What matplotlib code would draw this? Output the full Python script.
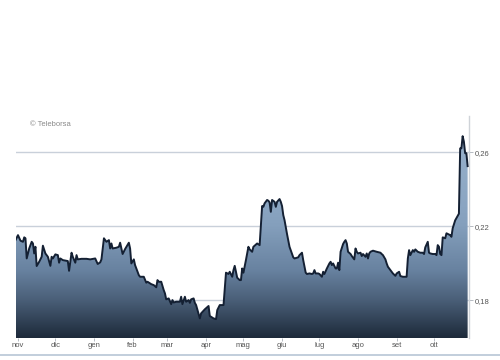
import pandas as pd
import matplotlib.pyplot as plt
import numpy as np
from matplotlib.colors import LinearSegmentedColormap
from matplotlib.lines import Line2D

# days counted from 1 nov
days = [-2, 0, 2, 4, 5, 6, 7, 9, 11, 12, 13, 14, 15, 17, 19, 20, 22, 24, 26, 27,
        28, 30, 32, 33, 34, 36, 40, 41, 43, 44, 46, 47, 48, 51, 55, 58, 62, 64, 66, 67,
        69, 71, 73, 74, 75, 76, 79, 81, 82, 84, 86, 89, 90, 91, 93, 94, 95, 97, 98, 101,
        103, 104, 107, 109, 111, 112, 113, 115, 117, 118, 119, 121, 123, 124, 125, 127, 130, 131, 132, 134,
        135, 137, 138, 139, 141, 142, 143, 146, 147, 150, 153, 154, 157, 159, 160, 162, 165, 167, 169, 170,
        172, 173, 174, 176, 178, 179, 180, 181, 183, 185, 186, 188, 189, 190, 192, 194, 196, 197, 198, 200,
        201, 202, 203, 204, 206, 207, 208, 210, 211, 212, 213, 214, 216, 217, 218, 221, 222, 225, 226, 228,
        229, 231, 232, 234, 236, 237, 238, 239, 241, 242, 244, 245, 246, 248, 250, 251, 252, 253, 255, 256,
        257, 258, 259, 261, 262, 263, 264, 265, 267, 268, 270, 271, 272, 273, 275, 276, 277, 279, 280, 281,
        282, 283, 285, 288, 291, 292, 293, 295, 296, 297, 299, 300, 301, 303, 304, 306, 307, 309, 312, 313,
        314, 315, 317, 318, 319, 321, 323, 325, 326, 327, 329, 330, 331, 333, 335, 336, 337, 338, 339, 340,
        341, 343, 344, 347, 348, 349, 351, 352, 354, 355, 356, 357, 358, 359, 360, 361]
prices = [0.2124, 0.2151, 0.2121, 0.2115, 0.2139, 0.2134, 0.2025, 0.2079, 0.2115, 0.2106,
          0.2052, 0.2088, 0.1984, 0.2007, 0.2034, 0.2094, 0.2052, 0.2034, 0.1985, 0.2034,
          0.2025, 0.2047, 0.2043, 0.2002, 0.2025, 0.2016, 0.2011, 0.1958, 0.2056, 0.2034,
          0.2002, 0.2043, 0.2020, 0.2023, 0.2023, 0.2020, 0.2025, 0.1995, 0.2004, 0.2020,
          0.2134, 0.2115, 0.2124, 0.2079, 0.2106, 0.2079, 0.2083, 0.2088, 0.2110, 0.2049,
          0.2076, 0.2110, 0.2079, 0.1998, 0.2020, 0.1989, 0.1971, 0.1935, 0.1926, 0.1926,
          0.1894, 0.1899, 0.1886, 0.1881, 0.1869, 0.1908, 0.1899, 0.1899, 0.1854, 0.1836,
          0.1804, 0.1809, 0.1778, 0.1800, 0.1787, 0.1791, 0.1791, 0.1818, 0.1778, 0.1818,
          0.1791, 0.1800, 0.1785, 0.1804, 0.1809, 0.1785, 0.1773, 0.1701, 0.1728, 0.1750,
          0.1768, 0.1714, 0.1701, 0.1697, 0.1746, 0.1773, 0.1773, 0.1948, 0.1941, 0.1953,
          0.1926, 0.1962, 0.1985, 0.1921, 0.1908, 0.1908, 0.1971, 0.1948, 0.2016, 0.2088,
          0.2074, 0.2061, 0.2088, 0.2094, 0.2106, 0.2097, 0.2308, 0.2304, 0.2323, 0.2341,
          0.2337, 0.2328, 0.2277, 0.2341, 0.2331, 0.2304, 0.2331, 0.2346, 0.2331, 0.2308,
          0.2259, 0.2232, 0.2157, 0.2124, 0.2088, 0.2031, 0.2025, 0.2031, 0.2043, 0.2056,
          0.2016, 0.1948, 0.1941, 0.1944, 0.1941, 0.1944, 0.1962, 0.1944, 0.1944, 0.1941,
          0.1926, 0.1953, 0.1941, 0.1971, 0.1998, 0.2007, 0.1989, 0.1998, 0.1971, 0.1971,
          0.2002, 0.1962, 0.2061, 0.2103, 0.2115, 0.2124, 0.2106, 0.2061, 0.2049, 0.2038,
          0.2020, 0.2079, 0.2061, 0.2052, 0.2056, 0.2038, 0.2049, 0.2034, 0.2052, 0.2025,
          0.2052, 0.2061, 0.2067, 0.2061, 0.2056, 0.2049, 0.2043, 0.2020, 0.1998, 0.1980,
          0.1962, 0.1953, 0.1944, 0.1931, 0.1944, 0.1953, 0.1930, 0.1926, 0.1926, 0.2025,
          0.2070, 0.2043, 0.2070, 0.2061, 0.2074, 0.2061, 0.2056, 0.2056, 0.2049, 0.2085,
          0.2115, 0.2056, 0.2052, 0.2049, 0.2049, 0.2043, 0.2097, 0.2088, 0.2049, 0.2043,
          0.2139, 0.2134, 0.2161, 0.2151, 0.2142, 0.2188, 0.2231, 0.2243, 0.2267, 0.2620,
          0.2620, 0.2686, 0.2656, 0.2594, 0.2594, 0.2524]

month_labels = ["nov", "dic", "gen", "feb", "mar", "apr", "mag", "giu", "lug", "ago", "set", "ott"]
yticks = [0.18, 0.22, 0.26]

start = pd.Timestamp("2022-11-01")
dates = start + pd.to_timedelta(days, unit="D")
x = pd.to_numeric(pd.Series(dates)).values / 8.64e13  # days since epoch
x0 = start.value / 8.64e13
month_starts = pd.date_range("2022-11-01", periods=12, freq="MS")
mx = month_starts.values.astype("datetime64[D]").astype(float)

plt.rcParams['font.family'] = ['Liberation Sans', 'DejaVu Sans']

fig = plt.figure(figsize=(5, 3.6), dpi=100)
ax = fig.add_axes([0.032, 0.0611, 0.906, 0.6167])

ymin, ymax = 0.1595, 0.2795
xmin, xmax = x0 - 1.6, x0 + 362.1
ax.set_xlim(xmin, xmax)
ax.set_ylim(ymin, ymax)

# gridlines behind the fill
for yt in yticks:
  ax.axhline(yt, color="#c9d0da", lw=1, zorder=0)

# vertical gradient, dark at the bottom, light steel blue at the top
gtop = 0.27
stops = [(0.0, "#1d2a3a"), (0.1855, "#4a5f78"), (0.33, "#6882a0"),
         (0.5475, "#849fbc"), (0.638, "#8aa5c2"), (1.0, "#98b1cb")]
cmap = LinearSegmentedColormap.from_list("tb", stops)
grad = np.linspace(0, 1, 256).reshape(-1, 1)
im = ax.imshow(grad, extent=[xmin, xmax, ymin, gtop], origin="lower", aspect="auto",
               cmap=cmap, zorder=1)
poly = ax.fill_between(x, prices, ymin, color="none", lw=0)
clip = poly.get_paths()[0]
im.set_clip_path(clip, transform=ax.transData)
ax.set_ylim(ymin, ymax)
ax.plot(x, prices, color="#142033", lw=1.4, zorder=3, solid_joinstyle="round")

ax.set_xticks(mx)
ax.set_xticklabels(month_labels)
ax.set_yticks(yticks)
ax.set_yticklabels([f"{v:.2f}".replace(".", ",") for v in yticks])
ax.yaxis.tick_right()

for side in ["top", "left", "bottom"]:
  ax.spines[side].set_visible(False)
ax.spines["right"].set_color("#cfd3d8")
ax.spines["right"].set_linewidth(1)

ax.tick_params(axis="x", length=2, width=0.6, color="#aab0b8", labelsize=5.5,
               labelcolor="#555555", pad=1)
ax.tick_params(axis="y", length=3, width=0.6, color="#aab0b8", labelsize=5.5,
               labelcolor="#555555", pad=1)

fig.text(0.06, 0.65, "\u00a9 Teleborsa", fontsize=5.5, color="#8a8a8a")
fig.add_artist(Line2D([0.0, 1.0], [0.014, 0.014], transform=fig.transFigure,
                      color="#b8c6d6", lw=1.2))

fig.savefig("out.png", dpi=100)
